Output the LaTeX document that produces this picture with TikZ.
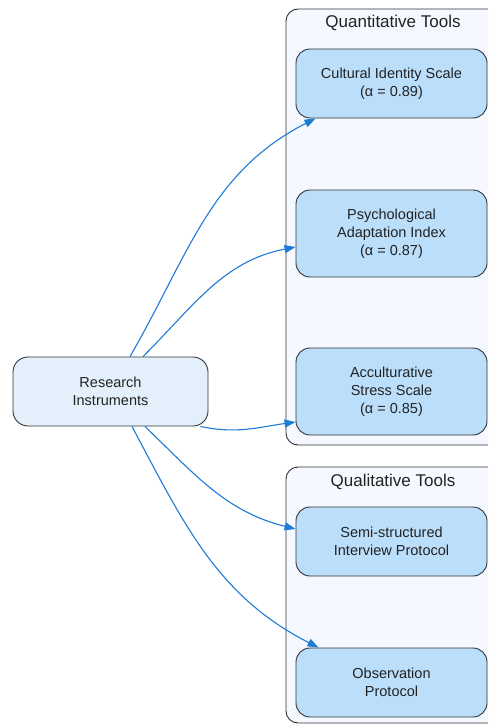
\documentclass[tikz,border=0pt]{standalone}
\usepackage{fontspec}
\setmainfont{Liberation Sans}
\usetikzlibrary{arrows.meta}
\definecolor{clfill}{HTML}{F5F9FF}
\definecolor{tfill}{HTML}{BBDEFB}
\definecolor{rfill}{HTML}{E3F0FC}
\definecolor{bord}{HTML}{333333}
\definecolor{edgec}{HTML}{1E7BD8}
\definecolor{txt}{HTML}{222222}
\tikzset{
  cluster/.style={draw=bord, line width=0.9pt, fill=clfill, rounded corners=12pt},
  tool/.style={draw=bord, line width=0.9pt, fill=tfill, rounded corners=14pt, minimum width=191pt, align=center, text=txt, font=\fontsize{14.5}{18}\selectfont, inner sep=0pt},
  root/.style={draw=bord, line width=0.9pt, fill=rfill, rounded corners=15pt, minimum width=195pt, minimum height=69pt, align=center, text=txt, font=\fontsize{14.5}{18}\selectfont, inner sep=0pt},
  ctitle/.style={text=txt, font=\fontsize{17}{20}\selectfont, inner sep=0pt},
  conn/.style={draw=edgec, line width=1.1pt, -{Triangle[length=11pt,width=8pt]}}
}
\begin{document}
\begin{tikzpicture}[x=1pt,y=-1pt]
\clip (0,0) rectangle (488,725);
\fill[white] (0,0) rectangle (488,725);
% clusters
\draw[cluster] (286,9) rectangle (505,445);
\node[ctitle] (qt) at (393,22.5) {Quantitative Tools};
\draw[cluster] (286,467) rectangle (505,723);
\node[ctitle] (ql) at (393,481.5) {Qualitative Tools};
% nodes
\node[root] (ri) at (110.5,391.5) {Research\\Instruments};
\node[tool, minimum height=69pt] (cul) at (391.5,83.5) {Cultural Identity Scale\\(α = 0.89)};
\node[tool, minimum height=87pt] (psy) at (391.5,233.5) {Psychological\\Adaptation Index\\(α = 0.87)};
\node[tool, minimum height=87pt] (acc) at (391.5,391.5) {Acculturative\\Stress Scale\\(α = 0.85)};
\node[tool, minimum height=69pt] (semi) at (391.5,541.5) {Semi-structured\\Interview Protocol};
\node[tool, minimum height=69pt] (obs) at (391.5,682.5) {Observation\\Protocol};
% connectors
\draw[conn] ([xshift=19.5pt]ri.north) to[out=60,in=207] ([xshift=-76pt]cul.south);
\draw[conn] ([xshift=32.5pt]ri.north) to[out=45,in=191] ([yshift=-13.5pt]psy.west);
\draw[conn] ([xshift=-8pt]ri.south east) to[out=-12,in=188] ([yshift=-30.5pt]acc.west);
\draw[conn] ([xshift=34.5pt]ri.south) to[out=-44,in=166] ([yshift=12.5pt]semi.west);
\draw[conn] ([xshift=21.5pt]ri.south) to[out=-62,in=153] ([xshift=-73pt]obs.north);
\end{tikzpicture}
\end{document}
